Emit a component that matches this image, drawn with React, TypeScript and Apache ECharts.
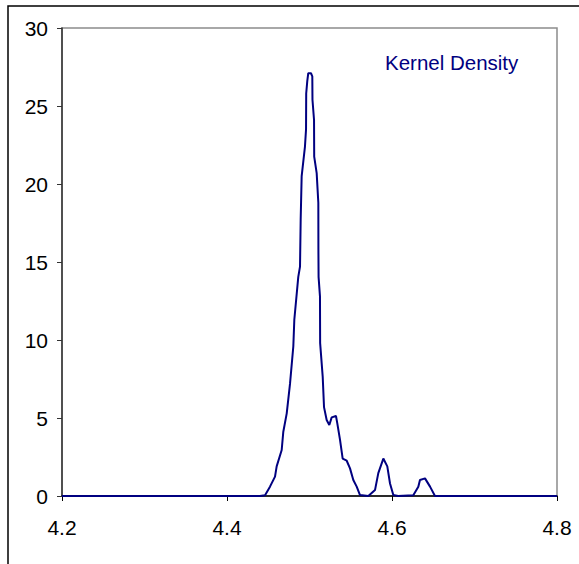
import React, { useEffect, useRef } from "react";
import * as echarts from "echarts";

const xValues = [
  4.2, 4.44, 4.4461, 4.4521, 4.4582, 4.4602, 4.4663, 4.4682, 4.4724, 4.4764, 4.4804,
  4.4816, 4.4864, 4.4885, 4.4893, 4.4905, 4.4945, 4.4958, 4.4960, 4.4973, 4.4985,
  4.5018, 4.5034, 4.5036, 4.5055, 4.5057, 4.5087, 4.5107, 4.5108, 4.5110, 4.5127,
  4.5129, 4.516, 4.5176, 4.5208, 4.524, 4.5269, 4.5321, 4.5337, 4.537, 4.5402,
  4.5451, 4.5491, 4.5531, 4.5572, 4.5612, 4.5713, 4.5794, 4.5834, 4.5895, 4.5943,
  4.5976, 4.6016, 4.6073, 4.6258, 4.6319, 4.6339, 4.64, 4.6461, 4.6521, 4.8,
];
const density = [
  0, 0, 0.05, 0.6, 1.24, 1.9, 2.95, 4.1, 5.3, 7.2, 9.6,
  11.3, 14.05, 14.7, 17.7, 20.5, 22.4, 23.5, 25.8, 26.6, 27.1,
  27.1, 26.9, 25.4, 24.1, 21.75, 20.7, 18.8, 15.8, 14.05, 12.8,
  9.8, 7.65, 5.7, 4.87, 4.55, 5.04, 5.13, 4.66, 3.6, 2.4,
  2.26, 1.77, 1.03, 0.6, 0.06, 0, 0.38, 1.47, 2.4, 1.9,
  0.8, 0.06, 0, 0.05, 0.6, 1.03, 1.13, 0.6, 0, 0,
];
const seriesLabel = "Kernel Density";

export default function App() {
  const ref = useRef<HTMLDivElement>(null);
  useEffect(() => {
    if (!ref.current) return;
    const chart = echarts.init(ref.current, undefined, { renderer: "svg" });
    chart.setOption({
      animation: false,
      backgroundColor: "#ffffff",
      grid: {
        left: 62,
        top: 28,
        right: 22,
        bottom: 68,
        show: true,
        borderColor: "#8c8c8c",
        borderWidth: 1.5,
      },
      xAxis: {
        type: "value",
        min: 4.2,
        max: 4.8,
        interval: 0.2,
        splitLine: { show: false },
        axisLine: { show: true, onZero: false, lineStyle: { color: "#000", width: 1.5 } },
        axisTick: { show: true, inside: false, length: 5, lineStyle: { color: "#000" } },
        axisLabel: {
          margin: 21,
          color: "#000",
          fontSize: 21,
          fontFamily: "Liberation Sans, Arial, sans-serif",
          formatter: (v: number) => v.toFixed(1),
        },
      },
      yAxis: {
        type: "value",
        min: 0,
        max: 30,
        interval: 5,
        splitLine: { show: false },
        axisLine: { show: true, lineStyle: { color: "#333", width: 1.5 } },
        axisTick: { show: true, inside: false, length: 5, lineStyle: { color: "#333" } },
        axisLabel: {
          margin: 14,
          color: "#000",
          fontSize: 21,
          fontFamily: "Liberation Sans, Arial, sans-serif",
        },
      },
      graphic: [
        {
          type: "rect",
          shape: { x: 8, y: 6, width: 620, height: 620 },
          style: { fill: "none", stroke: "#000", lineWidth: 1.5 },
          silent: true,
        },
        {
          type: "text",
          left: 385,
          top: 52,
          style: {
            text: seriesLabel,
            fill: "#000080",
            fontSize: 20.5,
            fontFamily: "Liberation Sans, Arial, sans-serif",
          },
        },
      ],
      series: [
        {
          type: "line",
          name: seriesLabel,
          data: xValues.map((x, i) => [x, density[i]]),
          showSymbol: false,
          lineStyle: { color: "#000080", width: 2 },
          z: 5,
        },
      ],
    });
    return () => chart.dispose();
  }, []);
  return (
    <div
      ref={ref}
      style={{ position: "fixed", left: 0, top: 0, width: 579, height: 564 }}
    />
  );
}
